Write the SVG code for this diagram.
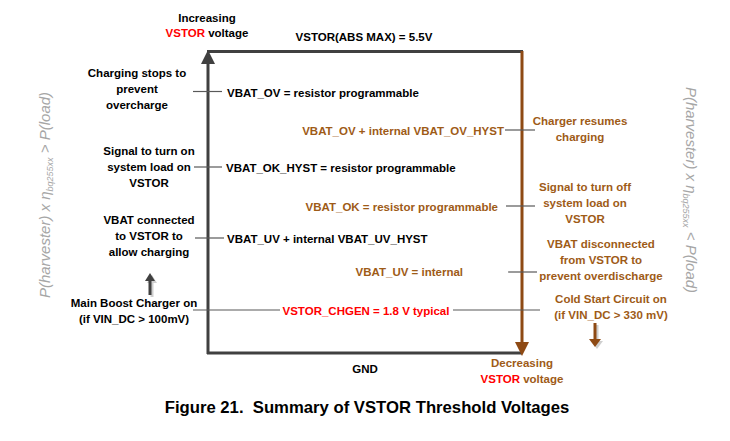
<svg xmlns="http://www.w3.org/2000/svg" width="730" height="441" viewBox="0 0 730 441">
<style>
.t{font-family:"Liberation Sans",Arial,sans-serif;font-weight:bold;font-size:11.5px;fill:#000}
.b{fill:#9e5b17}
.r{fill:#ff0000}
.m{text-anchor:middle}
.e{text-anchor:end}
.tick{stroke:#595959;stroke-width:1.2;fill:none}
.ax{stroke:#404040;stroke-width:3;fill:none}
.bax{stroke:#8e4a14;stroke-width:3;fill:none}
.rot{font-family:"Liberation Sans",Arial,sans-serif;font-style:italic;font-size:15px;fill:#a6a6a6;text-anchor:middle}
.cap{font-family:"Liberation Sans",Arial,sans-serif;font-weight:bold;font-size:16.7px;fill:#000;text-anchor:middle}
</style>
<rect width="730" height="441" fill="#fff"/>
<g id="connectors">
  <line class="ax" x1="208" y1="60" x2="208" y2="354"/>
  <polygon points="208,50 201,64 215,64" fill="#404040"/>
  <line class="ax" x1="207" y1="51.5" x2="523" y2="51.5"/>
  <line class="ax" x1="207" y1="353" x2="522" y2="353"/>
  <line class="bax" x1="522" y1="51" x2="522" y2="344"/>
  <polygon points="522,356 515,342 529,342" fill="#8e4a14"/>
  <line class="tick" x1="193" y1="91.5" x2="222" y2="91.5"/>
  <line class="tick" x1="194" y1="167" x2="222" y2="167"/>
  <line class="tick" x1="195" y1="238" x2="224" y2="238"/>
  <line class="tick" x1="193" y1="310" x2="280" y2="310"/>
  <line class="tick" x1="453" y1="310" x2="540" y2="310"/>
  <line class="tick" x1="505" y1="130" x2="535" y2="130"/>
  <line class="tick" x1="506" y1="206" x2="535" y2="206"/>
  <line class="tick" x1="508" y1="272" x2="537" y2="272"/>
  <g id="up-arrow">
    <line x1="152" y1="297" x2="152" y2="281" stroke="#cfcfcf" stroke-width="3"/>
    <polygon points="152,275 147,283 157,283" fill="#cfcfcf"/>
    <line x1="150" y1="295" x2="150" y2="279" stroke="#404040" stroke-width="3"/>
    <polygon points="150,273 145,281 155,281" fill="#404040"/>
  </g>
  <g id="down-arrow">
    <line x1="597" y1="325" x2="597" y2="342" stroke="#cfcfcf" stroke-width="3"/>
    <polygon points="597,349 591,341 603,341" fill="#cfcfcf"/>
    <line x1="595" y1="323" x2="595" y2="340" stroke="#8e4a14" stroke-width="3"/>
    <polygon points="595,347 589,339 601,339" fill="#8e4a14"/>
  </g>
</g>
<g id="increasing"><text class="t m" x="207" y="22">Increasing</text><text class="t m" x="207" y="37"><tspan class="r">VSTOR</tspan> voltage</text></g>
<g id="absmax"><text class="t m" x="364" y="41">VSTOR(ABS MAX) = 5.5V</text></g>
<g id="vbat-ov"><text class="t" x="227" y="97">VBAT_OV = resistor programmable</text></g>
<g id="vbat-ok-hyst"><text class="t" x="226" y="172">VBAT_OK_HYST = resistor programmable</text></g>
<g id="vbat-uv-hyst"><text class="t" x="227" y="243">VBAT_UV + internal VBAT_UV_HYST</text></g>
<g id="chgen"><text class="t r m" x="366" y="315">VSTOR_CHGEN = 1.8 V typical</text></g>
<g id="vbat-ov-hyst"><text class="t b e" x="504" y="135">VBAT_OV + internal VBAT_OV_HYST</text></g>
<g id="vbat-ok"><text class="t b e" x="498" y="211">VBAT_OK = resistor programmable</text></g>
<g id="vbat-uv"><text class="t b e" x="463" y="276">VBAT_UV = internal</text></g>
<g id="charging-stops"><text class="t m" x="137" y="77">Charging stops to</text><text class="t m" x="137" y="93">prevent</text><text class="t m" x="137" y="109">overcharge</text></g>
<g id="signal-on"><text class="t m" x="149" y="155">Signal to turn on</text><text class="t m" x="149" y="171">system load on</text><text class="t m" x="149" y="187">VSTOR</text></g>
<g id="vbat-connected"><text class="t m" x="149" y="224">VBAT connected</text><text class="t m" x="149" y="240">to VSTOR to</text><text class="t m" x="149" y="256">allow charging</text></g>
<g id="main-boost"><text class="t m" x="134" y="307">Main Boost Charger on</text><text class="t m" x="134" y="323">(if VIN_DC &gt; 100mV)</text></g>
<g id="charger-resumes"><text class="t b m" x="580" y="125">Charger resumes</text><text class="t b m" x="580" y="141">charging</text></g>
<g id="signal-off"><text class="t b m" x="585" y="191">Signal to turn off</text><text class="t b m" x="585" y="207">system load on</text><text class="t b m" x="585" y="223">VSTOR</text></g>
<g id="vbat-disconnected"><text class="t b m" x="601" y="248">VBAT disconnected</text><text class="t b m" x="601" y="264">from VSTOR to</text><text class="t b m" x="601" y="280">prevent overdischarge</text></g>
<g id="cold-start"><text class="t b m" x="611" y="303">Cold Start Circuit on</text><text class="t b m" x="611" y="319">(if VIN_DC &gt; 330 mV)</text></g>
<g id="decreasing"><text class="t b m" x="522" y="367">Decreasing</text><text class="t b m" x="522" y="383"><tspan class="r">VSTOR</tspan> voltage</text></g>
<g id="gnd"><text class="t m" x="365" y="373">GND</text></g>
<g id="left-power"><text class="rot" transform="translate(50,195) rotate(-90)">P(harvester) x η<tspan font-size="9" dy="3">bq255xx</tspan><tspan dy="-3"> &gt; P(load)</tspan></text></g>
<g id="right-power"><text class="rot" transform="translate(686,190) rotate(90)">P(harvester) x η<tspan font-size="9" dy="3">bq255xx</tspan><tspan dy="-3">  &lt; P(load)</tspan></text></g>
<g id="caption"><text class="cap" x="367" y="413">Figure 21.&#160; Summary of VSTOR Threshold Voltages</text></g>
</svg>
